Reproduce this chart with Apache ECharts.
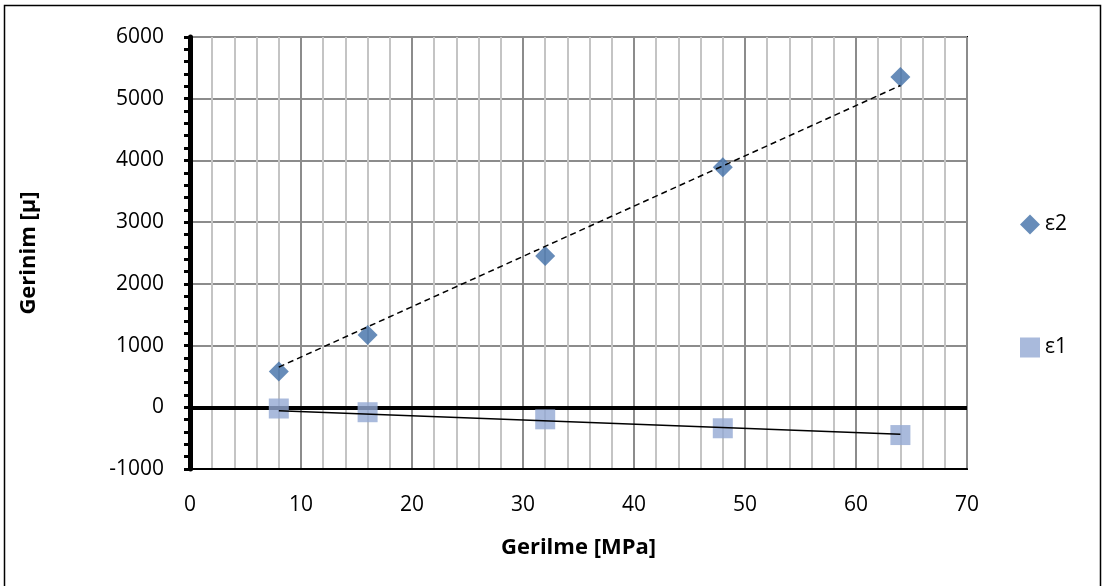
<!DOCTYPE html>
<html><head><meta charset="utf-8">
<script src="https://cdn.jsdelivr.net/npm/echarts@6/dist/echarts.min.js"></script>
<style>html,body{margin:0;padding:0;background:#fff}#c{width:1105px;height:586px}</style>
</head><body><div id="c"></div>
<script>
const stress = [8, 16, 32, 48, 64];
const eps2 = [580, 1170, 2450, 3890, 5350];
const eps1 = [-20, -80, -195, -340, -450];
const xTicks = [0, 10, 20, 30, 40, 50, 60, 70];
const yTicks = [-1000, 0, 1000, 2000, 3000, 4000, 5000, 6000];

// linear trendline forced through origin
function trend(xs, ys) {
  let sxy = 0, sxx = 0;
  xs.forEach((x, i) => { sxy += x * ys[i]; sxx += x * x; });
  const k = sxy / sxx;
  return [[xs[0], k * xs[0]], [xs[xs.length - 1], k * xs[xs.length - 1]]];
}
const pts = (xs, ys) => xs.map((x, i) => [x, ys[i]]);
const font = '"Open Sans", "Liberation Sans", sans-serif';

const chart = echarts.init(document.getElementById('c'));
chart.setOption({
  animation: false,
  backgroundColor: '#fff',
  textStyle: { fontFamily: font },
  graphic: [{ type: 'rect', shape: { x: 4.5, y: 5.5, width: 1096, height: 600 }, style: { fill: 'none', stroke: '#000', lineWidth: 1.5 }, silent: true }],
  grid: { left: 190, right: 138, top: 37, bottom: 117, show: true, borderColor: '#000', borderWidth: 2, backgroundColor: '#fff' },
  legend: {
    orient: 'vertical', left: 1015, top: 209, itemGap: 103, itemWidth: 20, itemHeight: 20, itemGap: 102,
    textStyle: { fontSize: 21, fontFamily: font, color: '#000' },
    data: [{ name: 'ε2', icon: 'diamond' }, { name: 'ε1', icon: 'rect' }]
  },
  xAxis: {
    type: 'value', min: xTicks[0], max: xTicks[xTicks.length - 1], interval: 10,
    name: 'Gerilme [MPa]', nameLocation: 'middle', nameGap: 68,
    nameTextStyle: { fontSize: 22, fontWeight: 'bold', color: '#000', fontFamily: font },
    axisLine: { onZero: false, lineStyle: { color: '#000', width: 2 } },
    axisTick: { show: false },
    axisLabel: { fontSize: 21, color: '#000', margin: 26, fontFamily: font },
    splitLine: { show: true, lineStyle: { color: '#8c8c8c', width: 2 } },
    minorTick: { show: false, splitNumber: 5 },
    minorSplitLine: { show: true, lineStyle: { color: '#c4c4c4', width: 2 } }
  },
  yAxis: {
    type: 'value', min: yTicks[0], max: yTicks[yTicks.length - 1], interval: 1000,
    name: 'Gerinim [µ]', nameLocation: 'middle', nameGap: 150, nameRotate: 90,
    nameTextStyle: { fontSize: 22, fontWeight: 'bold', color: '#000', fontFamily: font },
    axisLine: { show: true, lineStyle: { color: '#000', width: 5 } },
    axisTick: { show: true, length: 6, lineStyle: { color: '#000', width: 3 } },
    minorTick: { show: true, splitNumber: 5, length: 6, lineStyle: { color: '#000', width: 3 } },
    axisLabel: { fontSize: 21, color: '#000', margin: 26, fontFamily: font, formatter: v => String(v) },
    splitLine: { show: true, lineStyle: { color: '#8c8c8c', width: 2 } }
  },
  series: [
    { name: 'ε2', type: 'scatter', symbol: 'diamond', symbolSize: 20, z: 5,
      itemStyle: { color: '#416FA8' }, data: pts(stress, eps2) },
    { name: 'ε1', type: 'scatter', symbol: 'rect', symbolSize: 20, z: 5,
      itemStyle: { color: '#93A9D3' }, data: pts(stress, eps1) },
    { name: 't2', type: 'line', symbol: 'none', z: 6, data: trend(stress, eps2),
      lineStyle: { color: '#000', width: 1.5, type: [6, 4] },
      markLine: { silent: true, symbol: 'none', label: { show: false }, z: 3,
        lineStyle: { color: '#000', width: 4, type: 'solid' }, data: [{ yAxis: 0 }] } },
    { name: 't1', type: 'line', symbol: 'none', z: 6, data: trend(stress, eps1),
      lineStyle: { color: '#000', width: 1.5 } }
  ]
});
</script></body></html>
